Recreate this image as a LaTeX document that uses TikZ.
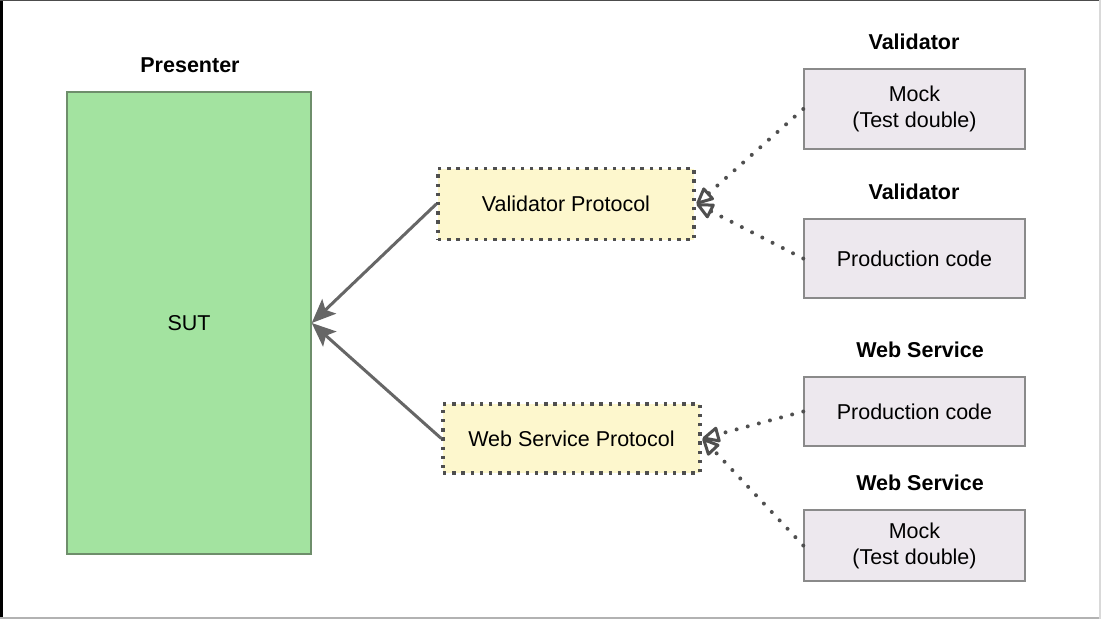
\documentclass[tikz,border=0pt]{standalone}
\usepackage{fontspec}
\setmainfont{Liberation Sans}
\usetikzlibrary{arrows.meta}
\definecolor{sutfill}{HTML}{A3E3A0}
\definecolor{sutdraw}{HTML}{6E8E6B}
\definecolor{protofill}{HTML}{FDF7CD}
\definecolor{dotcol}{HTML}{4F4F4F}
\definecolor{implfill}{HTML}{EDE8EE}
\definecolor{impldraw}{HTML}{8A8A8A}
\definecolor{arrowcol}{HTML}{666666}
\begin{document}
\begin{tikzpicture}[x=1pt,y=-1pt,
  every node/.style={font=\fontsize{21.5}{26}\selectfont, text=black, inner sep=0pt},
  sutbox/.style={draw=sutdraw, fill=sutfill, line width=1.5pt, minimum width=244pt, minimum height=462pt},
  protobox/.style={fill=protofill, draw=dotcol, line width=3.4pt, dash pattern=on 3.4pt off 5.8pt, minimum height=71pt},
  implbox/.style={draw=impldraw, fill=implfill, line width=1.5pt, minimum width=221pt, align=center},
  title/.style={font=\bfseries\fontsize{21.5}{24}\selectfont},
  uses/.style={draw=arrowcol, line width=3pt, -{Stealth[length=24pt, width=20pt, inset=5pt]}},
  realizes/.style={draw=dotcol, line width=4pt, dash pattern=on 0pt off 11.5pt, line cap=round,
     -{Triangle[open, length=19pt, width=17pt, line width=3pt, round]}}
]
\useasboundingbox (0,0) rectangle (1101,619);
\fill[white] (0,0) rectangle (1101,619);
% screen frame
\fill[black] (0,0) rectangle (3,619);
\fill[black!70] (0,0) rectangle (1101,1.2);
\fill[black!30] (0,617) rectangle (1101,619);
\fill[black!15] (1099,0) rectangle (1101,619);

\node[sutbox] (sut) at (189,323) {SUT};
\node[title] (presenter) at (190,65) {Presenter};

\node[protobox, minimum width=256pt] (vp) at (566,204) {Validator Protocol};
\node[protobox, minimum width=257pt, minimum height=69pt] (wsp) at (571.5,438.5) {Web Service Protocol};

\node[implbox, minimum height=80pt] (m1) at (914.5,109) {Mock\\(Test double)};
\node[implbox, minimum height=79pt] (p1) at (914.5,258.5) {Production code};
\node[implbox, minimum height=69pt] (p2) at (914.5,411.5) {Production code};
\node[implbox, minimum height=71pt] (m2) at (914.5,545.5) {Mock\\(Test double)};

\node[title] (t1) at (914,42) {Validator};
\node[title] (t2) at (914,192) {Validator};
\node[title] (t3) at (920,350) {Web Service};
\node[title] (t4) at (920,483) {Web Service};

\draw[uses] (vp.west) -- (sut.east);
\draw[uses] (wsp.west) -- (sut.east);

\draw[realizes] (m1.west) -- ([xshift=1pt]vp.east);
\draw[realizes] (p1.west) -- ([xshift=1pt]vp.east);
\draw[realizes] (p2.west) -- ([xshift=1pt]wsp.east);
\draw[realizes] (m2.west) -- ([xshift=1pt]wsp.east);
\end{tikzpicture}
\end{document}
